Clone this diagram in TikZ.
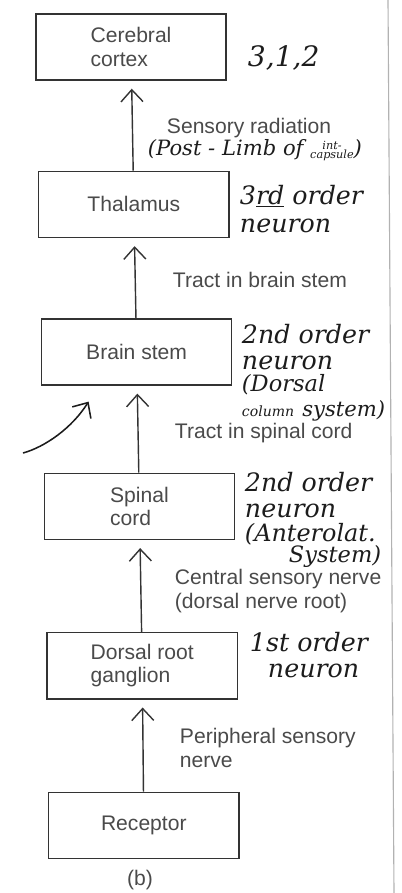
\documentclass[tikz,border=0pt]{standalone}
\usepackage{xcolor}
\usepackage{fontspec}
\setmainfont{Liberation Sans}
\newfontfamily\handfont{DejaVu Serif}
\usepackage{tikz}
\usetikzlibrary{positioning,arrows.meta}
\definecolor{printed}{HTML}{4A4A4A}
\definecolor{frame}{HTML}{333333}
\definecolor{ink}{HTML}{1C1C1C}
\newcommand{\printsize}{\fontsize{15}{16.5}\selectfont}
\newcommand{\handsize}{\handfont\itshape\fontsize{18}{20}\selectfont}
\tikzset{
    stage/.style={rectangle, draw=frame, line width=1pt, minimum width=4.75cm, minimum height=1.65cm, align=left, font=\printsize, text=printed},
    tract/.style={anchor=west, align=left, font=\printsize, text=printed},
    hand/.style={anchor=west, align=left, font=\handsize, text=ink},
    arrow/.style={-{Straight Barb[length=3mm,width=5.5mm]}, line width=1pt, draw=frame, shorten >=0.2cm},
    handarrow/.style={-{Straight Barb[length=3mm,width=5.5mm]}, line width=1.1pt, draw=ink},
    pageedge/.style={draw=black!30, line width=0.8pt}
}

\begin{document}
\begin{tikzpicture}[x=0.025cm, y=-0.025cm]
    \useasboundingbox (0,0) rectangle (401,893);
    % boxes
    \node[stage] (cortex) at (131,47) {Cerebral\\cortex};
    \node[stage, below=2.25cm of cortex, xshift=0.07cm] (thalamus) {Thalamus};
    \node[stage, below=2cm of thalamus, xshift=0.07cm] (brainstem) {Brain stem};
    \node[stage, below=2.175cm of brainstem, xshift=0.07cm] (spinal) {Spinal\\cord};
    \node[stage, below=2.3cm of spinal, xshift=0.07cm] (ganglion) {Dorsal root\\ganglion};
    \node[stage, below=2.3cm of ganglion, xshift=0.04cm] (receptor) {Receptor};
    \node[font=\printsize, text=printed] (caption) at (140,880) {(b)};
    % pathway
    \draw[arrow] (receptor) -- (ganglion);
    \draw[arrow] (ganglion) -- (spinal);
    \draw[arrow] (spinal) -- (brainstem);
    \draw[arrow] (brainstem) -- (thalamus);
    \draw[arrow] (thalamus) -- (cortex);
    % printed labels
    \node[tract] (radiation) at (162,128) {Sensory radiation};
    \node[tract] (tractbrain) at (168,280) {Tract in brain stem};
    \node[tract] (tractspinal) at (170,433) {Tract in spinal cord};
    \node[tract] (central) at (170,591) {Central sensory nerve\\(dorsal nerve root)};
    \node[tract] (peripheral) at (175,748) {Peripheral sensory\\nerve};
    % handwritten notes
    \node[hand, font=\handfont\itshape\fontsize{20}{20}\selectfont] (order312) at (243,58) {3,1,2};
    \node[hand, font=\handfont\itshape\fontsize{15}{15}\selectfont] (capsule) at (143,151)
        {(Post - Limb of \raisebox{1pt}{\fontsize{8}{8}\selectfont\begin{tabular}{@{}c@{}}int-\\[-2pt]capsule\end{tabular}})};
    \node[hand] (thirdorder) at (235,209) {3\underline{rd} order\\neuron};
    \node[hand] (dorsalcol) at (237,373) {2nd order\\[-2pt]neuron\\[-4pt]{\fontsize{16}{16}\selectfont (Dorsal}\\[-2pt]{\fontsize{10}{10}\selectfont column} {\fontsize{15}{15}\selectfont system)}};
    \node[hand] (anterolat) at (240,520) {2nd order\\[-1pt]neuron\\[-3pt]{\fontsize{17}{16}\selectfont (Anterolat.}\\[-5pt]{\fontsize{16}{16}\selectfont\hspace{1.1cm}System)}};
    \node[hand] (firstorder) at (245,655) {1st order\\[-2pt]\hspace{0.45cm}neuron};
    \coordinate (stray) at (23,453);
    \draw[handarrow] (stray) .. controls (45,447) and (72,428) .. ([xshift=-1.2cm,yshift=-0.4cm]brainstem.south);
    % page edge
    \draw[pageedge] (388,0) -- (394,893);
\end{tikzpicture}
\end{document}
